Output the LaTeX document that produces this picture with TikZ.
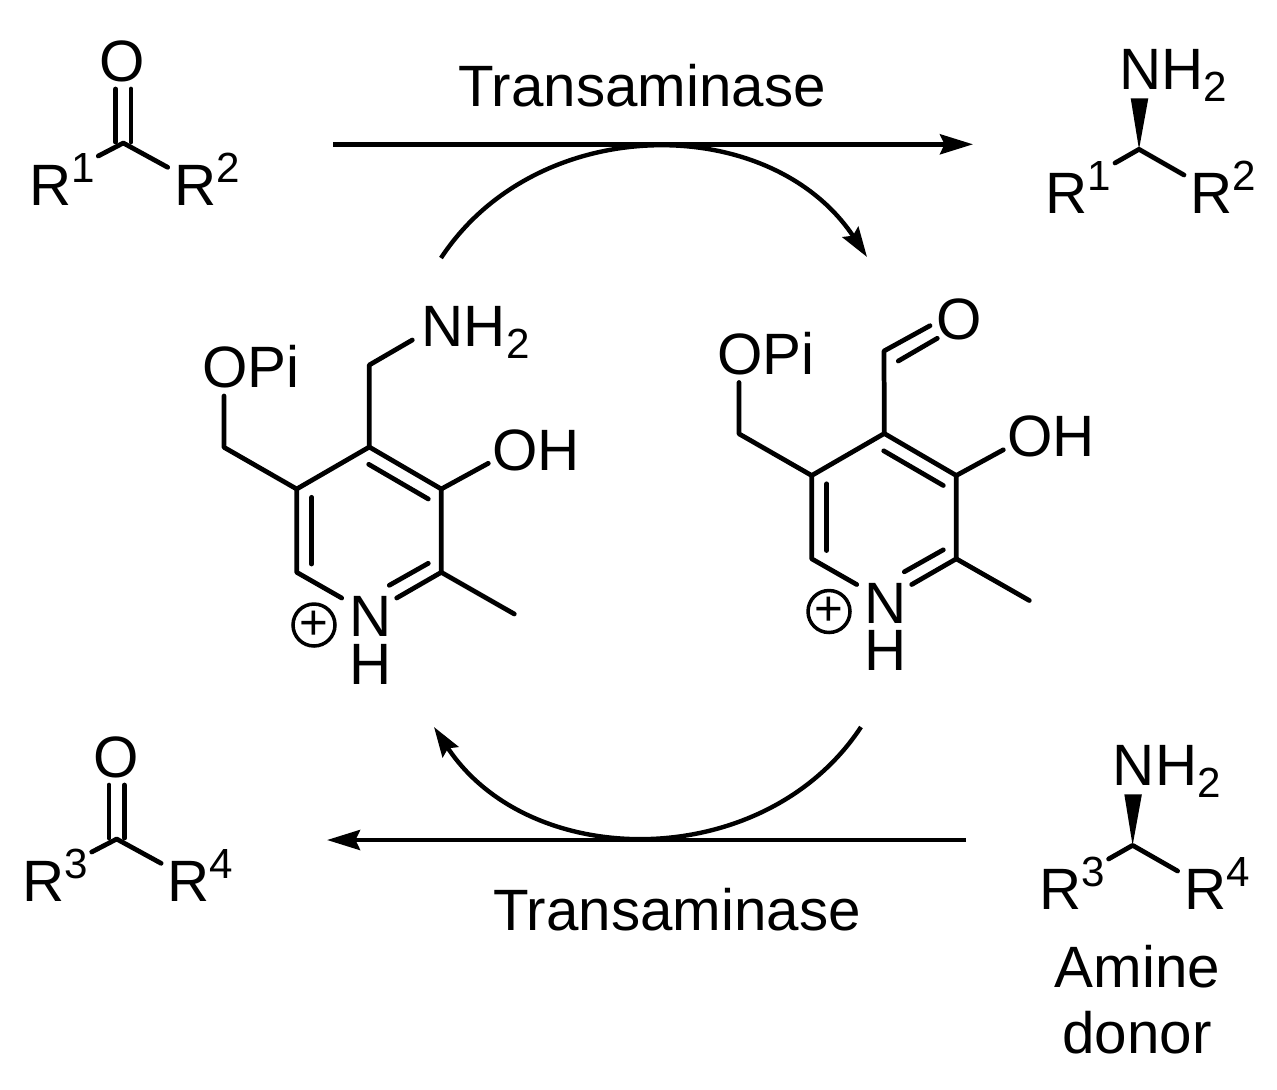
\documentclass[tikz,border=0pt]{standalone}
\usepackage{fontspec}
\setmainfont{Liberation Sans}
\usetikzlibrary{arrows.meta}
\tikzset{
bond/.style={line width=2.7pt, line cap=round, line join=round},
reaction/.style={line width=2.5pt, -{Stealth[length=0.66cm, width=0.4cm, inset=0.09cm]}},
cycle arrow/.style={line width=2.5pt, bend left=56.6, looseness=1.05, -{Stealth[length=0.6cm, width=0.38cm, inset=0.09cm]}},
atom/.style={anchor=base west, inner sep=0pt, font=\fontsize{33.2}{38}\selectfont},
oxygen/.style={anchor=base, inner sep=0pt, font=\fontsize{33.2}{38}\selectfont},
charge/.style={circle, draw, line width=2pt, inner sep=0pt, minimum size=0.84cm, font=\fontsize{28}{32}\selectfont}
}
\newcommand{\supnum}[1]{\raisebox{0.46cm}{\fontsize{24}{28}\selectfont #1}}
\newcommand{\subnum}[1]{\raisebox{-0.245cm}{\fontsize{24}{28}\selectfont #1}}
\begin{document}
\begin{tikzpicture}[x=0.02cm, y=-0.02cm]
  \useasboundingbox (0,0) rectangle (1277,1089);

  \node[atom] (textTop) at (458,106) {Transaminase};
  \node[atom] (textBottom) at (493,930) {Transaminase};
  \coordinate (topStart) at (333,144.3);
  \coordinate (topEnd) at (973,144.3);
  \coordinate (bottomStart) at (966,840);
  \coordinate (bottomEnd) at (327,840);
  \coordinate (arcTopStart) at (441,258);
  \coordinate (arcTopEnd) at (867,257);
  \coordinate (arcBottomStart) at (861,727);
  \coordinate (arcBottomEnd) at (434,727);
  \draw[reaction] (topStart) -- (topEnd);
  \draw[reaction] (bottomStart) -- (bottomEnd);
  \draw[cycle arrow] (arcTopStart) to (arcTopEnd);
  \draw[cycle arrow] (arcBottomStart) to (arcBottomEnd);

  \foreach \s/\dx/\dy/\m/\n in {A/0/0/1/2, B/-6.6/696/3/4} {
    \begin{scope}[shift={(\dx,\dy)}]
      \node[oxygen] (O\s) at (122.3,81) {O};
      \node[atom] (R\m) at (29,205.3) {R\supnum{\m}};
      \node[atom] (R\n) at (174,205.3) {R\supnum{\n}};
      \coordinate (k\s) at (123.3,143);
      \coordinate (kl\s) at (98.3,156);
      \coordinate (kr\s) at (167.7,167.3);
      \coordinate (d1\s) at (115.7,89);
      \coordinate (d2\s) at (115.7,142);
      \coordinate (d3\s) at (131,89);
      \coordinate (d4\s) at (131,142);
      \draw[bond] (kl\s) -- (k\s) -- (kr\s);
      \draw[bond] (d1\s) -- (d2\s);
      \draw[bond] (d3\s) -- (d4\s);
    \end{scope}
  }

  \foreach \s/\dx/\dy/\m/\n in {C/0/0/1/2, D/-6.4/696/3/4} {
    \begin{scope}[shift={(\dx,\dy)}]
      \node[atom] (N\s) at (1119,89.3) {NH\subnum{2}};
      \node[atom] (RR\m) at (1045.5,213.3) {R\supnum{\m}};
      \node[atom] (RR\n) at (1190.5,213.3) {R\supnum{\n}};
      \coordinate (v\s) at (1139,149.3);
      \coordinate (vl\s) at (1115,163);
      \coordinate (vr\s) at (1184,175);
      \coordinate (w1\s) at (1130.7,98.3);
      \coordinate (w2\s) at (1148.3,98.3);
      \draw[bond] (vl\s) -- (v\s) -- (vr\s);
      \fill (w1\s) -- (w2\s) -- (v\s) -- cycle;
    \end{scope}
  }
  \node[atom] (amine) at (1054.5,987.7) {Amine};
  \node[atom] (donor) at (1062,1053.3) {donor};

  \foreach \p/\dx/\dy in {L/0/0, R/515/-13.5} {
    \begin{scope}[shift={(\dx,\dy)}]
      \coordinate (c5\p) at (296.7,489);
      \coordinate (c4\p) at (369.3,447);
      \coordinate (c3\p) at (441.3,489);
      \coordinate (c2\p) at (441.3,572.3);
      \coordinate (c6\p) at (296.7,572.3);
      \coordinate (n1\p) at (341.7,598);
      \coordinate (n2\p) at (396.7,598);
      \coordinate (i1\p) at (311.7,497.3);
      \coordinate (i2\p) at (311.7,564);
      \coordinate (i3\p) at (368.7,464.3);
      \coordinate (i4\p) at (428.3,499);
      \coordinate (i5\p) at (428.3,563.3);
      \coordinate (i6\p) at (389.3,585.3);
      \coordinate (me\p) at (514.3,614);
      \coordinate (oh\p) at (488.3,463.3);
      \coordinate (ch\p) at (224,447.3);
      \coordinate (op\p) at (224,396);
      \node[atom] (OPi\p) at (202,387.7) {OPi};
      \node[atom] (OH\p) at (492,470) {OH};
      \node[atom] (N\p) at (349,636.7) {N};
      \node[atom] (H\p) at (349,684.3) {H};
      \node[charge] (plus\p) at (314,625) {+};
      \draw[bond] (n1\p) -- (c6\p) -- (c5\p) -- (c4\p) -- (c3\p) -- (c2\p) -- (n2\p);
      \draw[bond] (i1\p) -- (i2\p);
      \draw[bond] (i3\p) -- (i4\p);
      \draw[bond] (i5\p) -- (i6\p);
      \draw[bond] (c2\p) -- (me\p);
      \draw[bond] (c3\p) -- (oh\p);
      \draw[bond] (op\p) -- (ch\p) -- (c5\p);
    \end{scope}
  }

  \node[atom] (NHL) at (421.5,346) {NH\subnum{2}};
  \coordinate (chL) at (369.3,365);
  \coordinate (nhL) at (412.3,340);
  \draw[bond] (c4L) -- (chL) -- (nhL);

  \node[oxygen] (OCHO) at (959,339.5) {O};
  \coordinate (chR) at (884,351);
  \coordinate (oaR) at (930,325.7);
  \coordinate (ob1R) at (898.3,361);
  \coordinate (ob2R) at (937.3,338.3);
  \draw[bond] (c4R) -- (chR) -- (oaR);
  \draw[bond] (ob1R) -- (ob2R);
\end{tikzpicture}
\end{document}
